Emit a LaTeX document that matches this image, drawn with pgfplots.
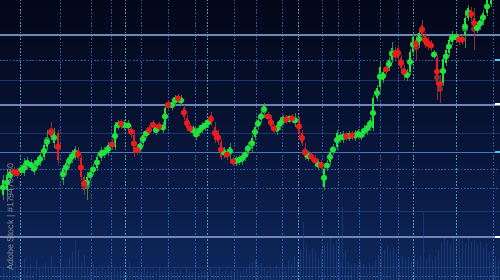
\documentclass[border=0pt]{standalone}
\usepackage{pgfplots}
\pgfplotsset{compat=1.18}
\usepackage{pgfplotstable}
\usepackage{fontspec}
\newfontfamily\wm{Liberation Sans}
\definecolor{bgtop}{RGB}{3,7,24}
\definecolor{bgmid}{RGB}{8,20,55}
\definecolor{bgbot}{RGB}{14,40,94}
\definecolor{cg}{RGB}{30,228,62}
\definecolor{cr}{RGB}{236,28,30}
\definecolor{wg}{RGB}{50,140,70}
\definecolor{wr}{RGB}{150,45,50}
\definecolor{glight}{RGB}{110,135,180}
\definecolor{gdim}{RGB}{26,54,112}
\definecolor{gdot}{RGB}{45,95,175}
\definecolor{gcyan}{RGB}{75,160,190}
\definecolor{vol}{RGB}{34,76,145}

% candles in picture units: x, body top, body bottom, wick top, wick bottom (measured from top)
\pgfplotstableread{
x t b h l
3 180 195 175 200
7 175 190 170 195
10 172 178 169 181
21 168 172 165 175
24 163 173 158 176
27 160 166 157 169
31 162 168 159 171
34 165 172 160 175
37 160 166 157 169
40 155 163 152 166
44 145 157 142 160
47 137 147 130 150
54 132 143 128 148
63 168 180 165 185
66 163 172 160 175
69 157 165 154 168
72 153 160 150 163
75 149 157 146 160
87 177 188 172 200
90 172 178 169 181
93 167 172 164 175
97 157 168 154 171
101 150 158 147 161
104 150 155 147 158
108 145 153 142 156
115 125 147 122 150
118 123 127 120 130
124 123 127 120 130
128 123 128 120 131
140 143 150 140 153
143 135 143 132 146
146 132 135 129 138
156 128 132 125 135
163 125 130 122 133
165 108 125 105 128
172 103 107 100 110
175 97 103 95 106
181 98 103 95 106
193 128 132 125 135
196 132 137 129 140
199 128 133 125 136
202 125 130 122 133
205 123 128 120 131
208 120 125 117 128
224 150 155 147 158
230 147 155 143 160
236 159 163 156 166
239 158 162 155 165
242 155 162 152 165
245 152 158 149 161
248 145 152 142 155
252 138 148 135 153
255 127 137 124 140
258 120 127 117 130
261 113 120 110 123
264 105 113 103 118
277 125 132 122 135
280 120 127 117 130
283 118 122 115 125
289 118 120 115 123
295 118 123 113 127
308 154 158 151 161
318 162 167 159 170
324 169 187 165 190
327 163 168 160 171
330 152 162 149 165
333 147 152 144 155
337 133 147 130 150
340 135 140 132 143
343 134 140 131 143
349 134 138 131 141
355 133 138 130 141
358 132 136 129 139
361 133 137 130 140
364 128 134 125 137
367 125 132 122 135
370 120 128 117 131
373 98 128 95 131
377 88 98 85 101
380 67 87 62 90
383 72 80 69 83
389 60 68 57 71
392 48 60 42 63
407 72 78 69 81
410 52 72 49 75
413 37 52 33 55
419 33 45 30 48
434 53 56 50 59
443 59 83 56 86
446 50 63 47 66
449 40 53 37 56
452 34 42 31 45
456 34 40 31 43
465 18 35 10 48
468 8 18 5 21
477 26 30 23 33
480 20 27 17 30
483 13 22 10 25
487 0 13 -3 16
491 -8 4 -11 7
}\green

\pgfplotstableread{
x t b h l
14 170 174 167 177
17 171 175 168 178
51 128 137 122 140
58 133 160 130 165
78 150 158 147 161
81 158 177 155 180
84 177 190 175 195
112 142 147 139 150
121 122 126 119 129
131 128 135 125 138
134 135 152 130 157
137 148 152 145 155
149 128 132 125 135
153 123 127 120 130
159 125 128 122 131
168 103 107 100 110
178 97 100 94 103
184 108 117 105 120
187 118 128 115 131
190 127 130 124 133
211 115 123 112 126
215 127 140 122 143
218 133 142 130 145
221 142 157 139 160
227 152 157 149 160
233 160 163 157 166
268 115 118 112 121
271 118 127 115 130
274 127 130 124 133
286 118 121 115 124
292 117 120 114 123
299 120 133 117 136
302 133 143 130 146
305 148 157 143 160
311 155 158 152 161
315 158 163 155 166
321 163 167 160 170
346 135 138 132 141
352 134 137 131 140
386 67 72 64 75
395 50 58 47 61
398 48 58 45 61
401 58 68 55 71
404 68 75 65 80
416 40 48 35 60
422 25 35 20 38
425 35 45 32 48
428 40 47 37 50
431 43 48 40 51
437 58 85 55 100
440 82 86 75 103
459 37 42 34 45
462 37 42 34 45
471 10 18 7 21
474 18 28 8 50
}\red

\begin{document}
\begin{tikzpicture}
\begin{axis}[
  width=13cm, height=7.28cm, scale only axis,
  xmin=0, xmax=500, ymin=0, ymax=280,
  axis line style={draw=none}, ticks=none,
  axis background/.style={top color=bgtop, bottom color=bgbot, middle color=bgmid},
  clip=true,
]
% grid: dim solid lines
\pgfplotsinvokeforeach{200,147,69,13}{\draw[gdim, line width=0.6pt] (axis cs:0,#1) -- (axis cs:500,#1);}
% dotted horizontal
\pgfplotsinvokeforeach{220,111,92,4}{\draw[gdot, line width=0.6pt, dash pattern=on 1.2pt off 1.2pt] (axis cs:0,#1) -- (axis cs:500,#1);}
% blue solid
\draw[gdot!85!white, line width=0.7pt] (axis cs:0,128) -- (axis cs:500,128);
% vertical dotted
\pgfplotsinvokeforeach{60,91,111,141,168,195,234,256,282,322,338,359,380,398,493}{\draw[gdot, line width=0.55pt, dash pattern=on 1.2pt off 1.2pt] (axis cs:#1,0) -- (axis cs:#1,280);}
\pgfplotsinvokeforeach{20,125,207,298,413,456}{\draw[gcyan, line width=0.6pt, dash pattern=on 1.2pt off 1.2pt] (axis cs:#1,0) -- (axis cs:#1,280);}
% light solid
\pgfplotsinvokeforeach{245,175,43}{\draw[glight, line width=0.75pt] (axis cs:0,#1) -- (axis cs:500,#1);}
% right edge markers
\draw[white, line width=1.1pt] (axis cs:495,176) -- (axis cs:500,176);
\draw[white, line width=1.1pt] (axis cs:495,43) -- (axis cs:500,43);
\draw[cyan!70!white, line width=1.1pt] (axis cs:495,220) -- (axis cs:500,220);
\draw[cyan!70!white, line width=1.1pt] (axis cs:495,128) -- (axis cs:500,128);

% volume
\addplot[ycomb, draw=vol, line width=0.7pt, opacity=0.5] coordinates {
(3,12)(6,8)(9,15)(12,10)(15,18)(18,9)(21,14)(24,22)(27,11)(30,16)(33,9)(36,20)(39,13)(42,10)(45,17)(48,12)(51,24)(54,14)(57,10)(60,19)(63,12)(66,15)(69,22)(72,28)(75,40)(78,30)(81,18)(84,25)(87,14)(90,11)(93,16)(96,12)(99,9)(102,13)(105,10)(108,15)(111,8)(114,12)(117,10)(120,14)(123,9)(126,11)(129,18)(132,10)(135,8)(138,13)(141,9)(144,12)(147,10)(150,8)(153,11)(156,9)(159,13)(162,8)(165,10)(168,7)(171,9)(174,12)(177,8)(180,10)(183,7)(186,11)(189,9)(192,8)(195,12)(198,7)(201,9)(204,10)(207,8)(210,11)(213,7)(216,9)(219,12)(222,8)(225,10)(228,7)(231,9)(234,8)(237,11)(240,9)(243,10)(246,12)(249,16)(252,18)(255,20)(258,14)(261,17)(264,12)(267,10)(270,14)(273,11)(276,15)(279,12)(282,18)(285,13)(288,20)(291,16)(294,24)(297,19)(300,30)(303,58)(306,35)(309,26)(312,32)(315,28)(318,22)(321,30)(324,35)(327,38)(330,42)(333,36)(336,40)(339,45)(342,73)(345,30)(348,18)(351,15)(354,17)(357,14)(360,18)(363,16)(366,13)(369,17)(372,15)(375,20)(378,25)(381,33)(384,30)(387,35)(390,28)(393,32)(396,26)(399,22)(402,24)(405,20)(408,23)(411,19)(414,25)(417,21)(420,24)(423,68)(426,22)(429,26)(432,20)(435,24)(438,30)(441,38)(444,42)(447,40)(450,35)(453,42)(456,38)(459,44)(462,40)(465,36)(468,42)(471,38)(474,40)(477,35)(480,38)(483,32)(486,36)(489,28)(492,30)(495,24)(498,20)
};

% wicks
\addplot[color=wg, only marks, mark=none, error bars/.cd, y dir=both, y explicit, error mark=none,
  error bar style={color=wg, draw=wg, line width=0.5pt, line cap=butt, solid}]
  table[x=x, y expr={280-(\thisrow{h}+\thisrow{l})/2}, y error expr={(\thisrow{l}-\thisrow{h})/2}] {\green};
\addplot[color=wr, only marks, mark=none, error bars/.cd, y dir=both, y explicit, error mark=none,
  error bar style={color=wr, draw=wr, line width=0.5pt, line cap=butt, solid}]
  table[x=x, y expr={280-(\thisrow{h}+\thisrow{l})/2}, y error expr={(\thisrow{l}-\thisrow{h})/2}] {\red};
% bodies
\addplot[color=cg, only marks, mark=none, error bars/.cd, y dir=both, y explicit, error mark=none,
  error bar style={color=cg, draw=cg, line width=1.6pt, line cap=butt, solid}]
  table[x=x, y expr={280-(\thisrow{t}+\thisrow{b})/2}, y error expr={(\thisrow{b}-\thisrow{t})/2}] {\green};
\addplot[color=cr, only marks, mark=none, error bars/.cd, y dir=both, y explicit, error mark=none,
  error bar style={color=cr, draw=cr, line width=1.6pt, line cap=butt, solid}]
  table[x=x, y expr={280-(\thisrow{t}+\thisrow{b})/2}, y error expr={(\thisrow{b}-\thisrow{t})/2}] {\red};

\node[rotate=90, text=gray!70!white, opacity=0.8, font=\wm\fontsize{6.6}{7}\selectfont] at (axis cs:11,63) {Adobe Stock | \#179478880};
\end{axis}
\end{tikzpicture}
\end{document}
